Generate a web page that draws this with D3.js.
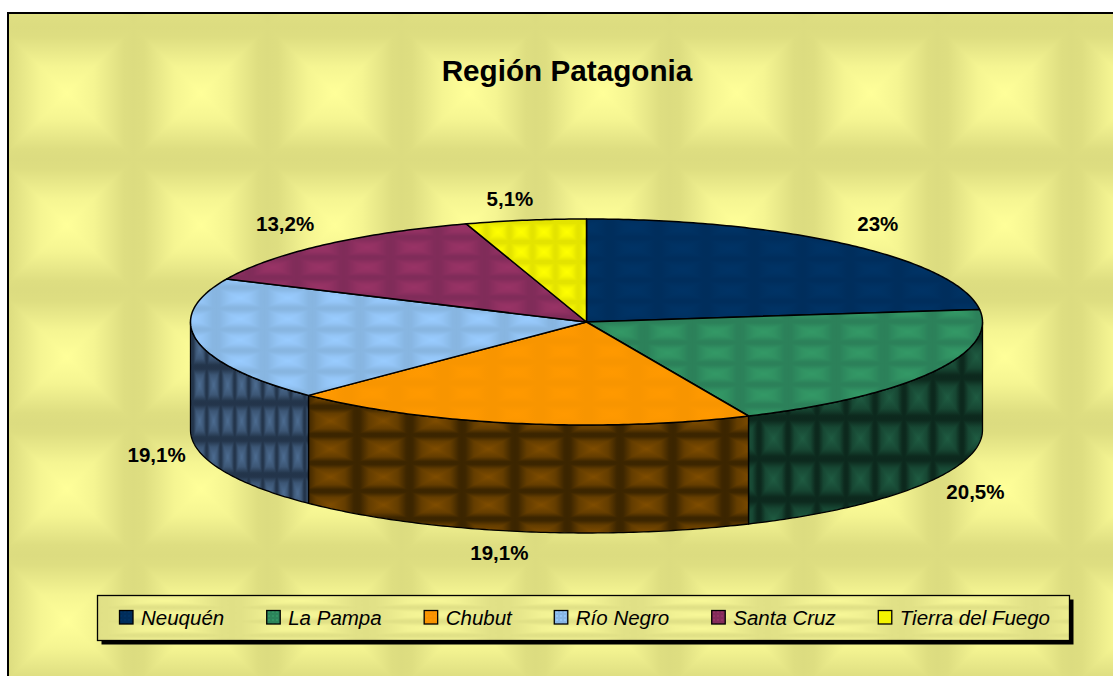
<!DOCTYPE html>
<html><head><meta charset="utf-8">
<script src="https://cdn.jsdelivr.net/npm/d3@7"></script>
<style>html,body{margin:0;padding:0;background:#fff}svg{display:block}text{font-family:"Liberation Sans",Arial,sans-serif;fill:#000}</style>
</head><body><div id="c"></div>
<script>
const titleText = "Región Patagonia";
const categories = ["Neuquén","La Pampa","Chubut","Río Negro","Santa Cruz","Tierra del Fuego"];
const values = [23,20.5,19.1,19.1,13.2,5.1];
const labels = ["23%","20,5%","19,1%","19,1%","13,2%","5,1%"];

const W=1113,H=676,cx=586.5,cy=322,rx=396,ry=103,depth=108;
const svg=d3.select("#c").append("svg").attr("width",W).attr("height",H);
const defs=svg.append("defs");
const X=d3.scaleLinear().domain([-1,1]).range([cx-rx,cx+rx]);
const Y=d3.scaleLinear().domain([-1,1]).range([cy-ry,cy+ry]);

let gid=0;
function tile(ox,oy,w,h,dark,bright,stops){
  const id="p"+(++gid), mix=d3.interpolateRgb(dark,bright);
  const dirs=[[0,0,0,1,[[0,0],[w,0],[w/2,h/2]]],[0,1,0,0,[[0,h],[w,h],[w/2,h/2]]],
              [0,0,1,0,[[0,0],[0,h],[w/2,h/2]]],[1,0,0,0,[[w,0],[w,h],[w/2,h/2]]]];
  const p=defs.append("pattern").attr("id",id).attr("patternUnits","userSpaceOnUse")
    .attr("x",ox).attr("y",oy).attr("width",w).attr("height",h);
  p.append("rect").attr("width",w).attr("height",h).attr("fill",mix(0.5));
  dirs.forEach((d,i)=>{
    const g=defs.append("linearGradient").attr("id",id+"g"+i)
      .attr("x1",d[0]).attr("y1",d[1]).attr("x2",d[2]).attr("y2",d[3]);
    stops.forEach(s=>g.append("stop").attr("offset",s[0]).attr("stop-color",mix(s[1])));
    p.append("polygon").attr("points",d[4].map(q=>q.join(",")).join(" "))
      .attr("fill",`url(#${id}g${i})`).attr("shape-rendering","crispEdges");
  });
  return `url(#${id})`;
}
const soft=[[0,0],[.15,.05],[.35,.35],[.6,.7],[1,1]];
const hard=[[0,0],[.12,.03],[.45,.6],[1,1]];

// background
svg.append("rect").attr("x",8).attr("y",13).attr("width",W+20).attr("height",H+20)
  .attr("fill",tile(0,27,134,132,"#DCDC80","#FFFF99",soft)).attr("stroke","#000").attr("stroke-width",2);

const topFill=[
  tile(586-24,217,48,21,"#002E5C","#003366",soft),
  tile(644,321.5,48,21,"#2C8059","#339966",soft),
  tile(300,320,48,21,"#F89500","#FF9900",soft),
  tile(216,287.5,48,21,"#87B5E0","#99CCFF",soft),
  tile(343.5,237.5,47,20,"#802C59","#993366",soft),
  tile(486.5,222,23,20,"#E3E300","#FFFF00",soft)
];
const sideFill={1:tile(788,418,29,40.7,"#0C281D","#1F5C42",hard),
  2:tile(357,435,52.6,28,"#3B2500","#804D00",hard),
  3:tile(206.7,367,14,36,"#23344A","#4D6D92",hard)};

const arcs=d3.pie().sort(null).value(d=>d).startAngle(0).endAngle(2*Math.PI)(values);
const line=d3.line().x(d=>d[0]).y(d=>d[1]);
// slight perspective warp of the ellipse parameter, as in a 3-D projected pie
const warp=t=>t+1.3*(Math.PI/180)*Math.cos(t)*Math.sqrt(Math.abs(Math.sin(t)));
const pt=(t,dz=0)=>[X(Math.sin(warp(t))),Y(-Math.cos(warp(t)))+dz];
const samples=(a,b)=>{const n=Math.max(2,Math.ceil((b-a)*80));return d3.range(n+1).map(i=>a+(b-a)*i/n);};

// side walls
const g=svg.append("g");
arcs.forEach((a,i)=>{
  const s=Math.max(a.startAngle,Math.PI/2), e=Math.min(a.endAngle,3*Math.PI/2);
  if(e<=s) return;
  const ts=samples(s,e);
  const path=ts.map(t=>pt(t)).concat(ts.slice().reverse().map(t=>pt(t,depth)));
  g.append("path").attr("d",line(path)+"Z").attr("fill",sideFill[i])
    .attr("stroke","#000").attr("stroke-width",1.3).attr("stroke-linejoin","round");
});
// top faces
arcs.forEach((a,i)=>{
  const path=[[X(0),Y(0)]].concat(samples(a.startAngle,a.endAngle).map(t=>pt(t)));
  g.append("path").attr("d",line(path)+"Z").attr("fill",topFill[i])
    .attr("stroke","#000").attr("stroke-width",1.5).attr("stroke-linejoin","round");
});

// data labels
const labelNudge=[[-1,-4.5],[5,0],[-3,0],[5,2],[-5,-6],[-6,0]];
arcs.forEach((a,i)=>{
  const m=(a.startAngle+a.endAngle)/2, p=[X(Math.sin(m)),Y(-Math.cos(m))], front=Math.cos(m)<0;
  const x=p[0]+46*Math.sin(m)+labelNudge[i][0];
  const y=p[1]+(front?depth:0)-22*Math.cos(m)+labelNudge[i][1];
  svg.append("text").attr("x",x).attr("y",y+7.5).attr("text-anchor","middle")
    .attr("font-size",20.5).attr("font-weight","bold").text(labels[i]);
});

svg.append("text").attr("x",567).attr("y",81).attr("text-anchor","middle")
  .attr("font-size",29.7).attr("font-weight","bold").text(titleText);

// legend
const L={x:97.5,y:595.5,w:972,h:45};
svg.append("rect").attr("x",L.x+4).attr("y",L.y+4).attr("width",L.w).attr("height",L.h).attr("fill","#000");
svg.append("rect").attr("x",L.x).attr("y",L.y).attr("width",L.w).attr("height",L.h)
  .attr("fill",tile(L.x,L.y-2,134,14,"#E0E086","#F8F898",soft)).attr("stroke","#000").attr("stroke-width",1.3);
const legendSwatch=[
  tile(119,610,4,4,"#002C58","#003366",soft),tile(267,610,4,4,"#2B7F58","#339966",soft),
  tile(425,610,4,4,"#F59200","#FF9900",soft),tile(555,610,4,4,"#85B2DE","#99CCFF",soft),
  tile(712,610,4,4,"#7F2B58","#993366",soft),tile(879,610,2,2,"#E3E300","#FFFF00",soft)];
let lx=119.5;
categories.forEach((c,i)=>{
  svg.append("rect").attr("x",lx).attr("y",610.5).attr("width",13.5).attr("height",13.5)
    .attr("fill",legendSwatch[i]).attr("stroke","#000").attr("stroke-width",1.3);
  const t=svg.append("text").attr("x",lx+21.5).attr("y",625).attr("font-size",20.5)
    .attr("font-style","italic").text(c);
  lx+=22+t.node().getComputedTextLength()+42;
});
</script></body></html>
